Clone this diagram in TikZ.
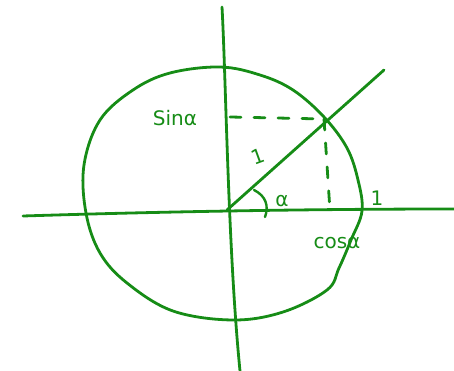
\documentclass[tikz,border=0pt]{standalone}
\usepackage{fontspec}
\setmainfont{DejaVu Sans}
\definecolor{pen}{RGB}{22,140,22}
\begin{document}
\begin{tikzpicture}[x=1pt,y=-1pt,
  stroke/.style={draw=pen,line width=2.8pt,line cap=round,line join=round},
  dashline/.style={stroke,dash pattern=on 11pt off 13pt},
  lbl/.style={text=pen,font=\fontsize{20}{22}\selectfont,inner sep=0pt}]
\useasboundingbox (0,0) rectangle (454,371);
\coordinate (O) at (227,210);
\coordinate (ytop) at (222,7);
\coordinate (ybot) at (240,371);
\coordinate (xl) at (23,216);
\coordinate (xr) at (454,209);
\coordinate (R) at (384,70);
\coordinate (P) at (324,119);
\coordinate (Sy) at (230,117);
\coordinate (Cx) at (330,211);
% circle
\draw[stroke] plot[smooth cycle,tension=0.6] coordinates {
 (220,67) (170,73) (133,90) (100,120) (84,165) (86,213) (100,253) (127,283)
 (173,311) (233,320) (283,312) (327,290) (339,268) (351,240) (362,211)
 (358,180) (347,148) (324,117) (293,90) (260,75)};
% axes
\draw[stroke] (ytop) .. controls (226,80) and (228,250) .. (ybot);
\draw[stroke] (xl) .. controls (150,212) and (300,209) .. (xr);
% radius
\draw[stroke] (O) -- (R);
% dashed projections
\draw[dashline] (Sy) -- (P);
\draw[dashline] (P) -- (Cx);
% angle arc
\draw[stroke,line width=2.4pt] (254,190) .. controls (266,196) and (269,206) .. (265,217);
% labels
\node[lbl] (sin) at (175,118) {Sinα};
\node[lbl,rotate=20] (one) at (258,156) {1};
\node[lbl] (alpha) at (282,201) {α};
\node[lbl] (oneb) at (377,198) {1};
\node[lbl] (cos) at (337,243) {cosα};
\end{tikzpicture}
\end{document}
